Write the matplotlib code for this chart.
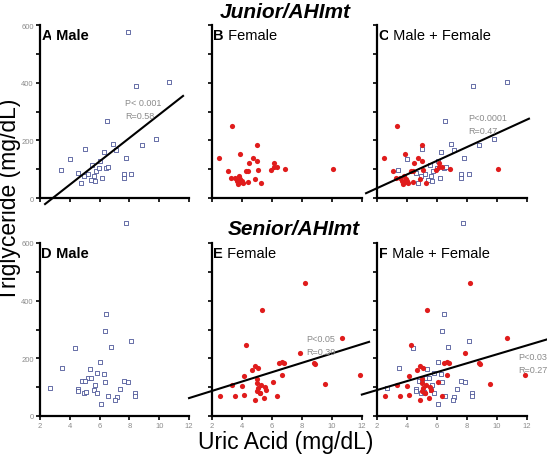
import numpy as np
import matplotlib.pyplot as plt

plt.rcParams['font.family'] = ['Liberation Sans', 'DejaVu Sans']

# Junior / AHImt
jm_ua = [7.92, 8.41, 10.64, 6.51, 4.99, 6.91, 6.29, 7.13, 8.83, 9.81, 7.80, 3.99, 3.41, 4.57, 4.95,
         4.72, 5.39, 5.68, 5.73, 5.61, 5.99, 6.17, 6.46, 6.57, 7.63, 7.63, 8.14, 5.21, 5.50, 6.05]
jm_tg = [577, 387, 402, 268, 170, 187, 159, 165, 185, 204, 138, 136, 98, 87, 75,
         52, 63, 60, 92, 78, 104, 69, 104, 106, 83, 69, 83, 83, 115, 127]
jf_ua = [3.34, 4.97, 3.85, 2.47, 4.75, 4.97, 4.46, 3.07, 4.25, 4.41, 5.04, 5.91, 6.15, 6.31, 6.13,
         6.87, 10.06, 3.29, 3.52, 3.81, 3.90, 3.85, 4.08, 4.01, 4.41, 4.86, 5.26, 3.74, 3.67]
jf_tg = [249, 184, 151, 138, 138, 129, 120, 92, 95, 95, 97, 98, 120, 106, 106,
         102, 99, 69, 69, 77, 65, 54, 51, 60, 56, 65, 51, 48, 60]

# Senior / AHImt
sm_ua = [7.76, 6.46, 6.35, 8.14, 4.37, 6.75, 3.45, 5.35, 6.06, 5.83, 6.29, 5.24, 5.44, 4.81, 5.00,
         6.35, 5.66, 7.63, 7.89, 2.67, 4.57, 4.57, 5.62, 7.36, 4.95, 5.10, 5.83, 6.55, 7.16, 7.04,
         6.08, 8.36, 8.36]
sm_tg = [670, 355, 294, 260, 236, 238, 166, 164, 186, 149, 147, 132, 133, 120, 120,
         118, 106, 120, 117, 97, 95, 87, 91, 95, 81, 83, 80, 69, 66, 55,
         43, 79, 68]
sf_ua = [8.21, 5.35, 10.64, 4.25, 7.87, 8.81, 8.88, 6.46, 6.64, 6.79, 4.86, 5.08, 4.68, 6.64, 4.12,
         11.89, 5.01, 6.06, 3.34, 4.01, 5.01, 9.52, 5.53, 5.08, 5.58, 5.19, 2.54, 3.52, 4.12, 5.46,
         6.35, 4.86, 5.21, 5.24, 5.01]
sf_tg = [460, 368, 272, 247, 220, 185, 180, 183, 188, 185, 174, 168, 160, 142, 139,
         141, 127, 119, 107, 104, 113, 110, 101, 98, 89, 79, 69, 69, 73, 64,
         69, 54, 81, 107, 87]

# regression fits: slope, intercept, x range, P and R text
fits = {
    'A': (40.5, -115.8, (2.34, 11.6), 'P< 0.001', 'R=0.58', (7.7, 330)),
    'C': (23.8, -13.6, (1.27, 12.13), 'P<0.0001', 'R=0.47', (8.1, 279)),
    'E': (16.25, 54.5, (0.47, 12.47), 'P<0.05', 'R=0.39', (8.3, 270)),
    'F': (15.5, 59.0, (0.99, 13.3), 'P<0.03', 'R=0.27', (11.4, 205)),
}

MALE_COLOR = '#4e5799'
FEMALE_COLOR = '#e01c1c'

W, H = 547, 464
fig = plt.figure(figsize=(W / 100, H / 100), dpi=100)

col_left = [40, 212, 377]
col_width = [149, 150, 150]
row_bottom = [199, 417]
row_height = 173


def make_ax(row, col):
    ax = fig.add_axes([col_left[col] / W, 1 - row_bottom[row] / H,
                       col_width[col] / W, row_height / H])
    ax.set_xlim(2, 12)
    ax.set_ylim(0, 600)
    for s in ['top', 'right']:
        ax.spines[s].set_visible(False)
    for s in ['left', 'bottom']:
        ax.spines[s].set_linewidth(1.6)
    ax.set_xticks(np.arange(2, 13, 2))
    ax.set_yticks([0, 200, 400, 600])
    ax.set_yticks([100, 300, 500], minor=True)
    ax.tick_params(axis='both', which='both', direction='out', length=3, width=1.2,
                   colors='black', labelcolor='#8c8c8c', labelsize=5.5, pad=1.5)
    if row == 0:
        ax.set_xticklabels([])
    if col > 0:
        ax.set_yticklabels([])
    ax.patch.set_alpha(0)
    return ax


def scatter_male(ax, x, y):
    ax.scatter(x, y, marker='s', s=11, facecolors='white', edgecolors=MALE_COLOR,
               linewidths=0.6, clip_on=False, zorder=3)


def scatter_female(ax, x, y):
    ax.scatter(x, y, marker='o', s=14, color=FEMALE_COLOR, linewidths=0,
               clip_on=False, zorder=4)


def draw_fit(ax, key):
    slope, icpt, (x0, x1), ptxt, rtxt, (tx, ty) = fits[key]
    xs = np.array([x0, x1])
    ax.plot(xs, slope * xs + icpt, color='black', lw=1.5, clip_on=False, zorder=5)
    ax.text(tx, ty, ptxt, fontsize=6.5, color='#8a8a8a', va='center', zorder=6)
    ax.text(tx, ty - 45, rtxt, fontsize=6.5, color='#8a8a8a', va='center', zorder=6)


def panel_label(ax, letter, rest, all_bold=False):
    box = dict(facecolor='white', edgecolor='none', pad=0.5)
    t = ax.text(0.01, 0.985, letter, transform=ax.transAxes, fontsize=10.5,
                fontweight='bold', va='top', ha='left', zorder=7)
    ax.annotate(' ' + rest, xy=(1, 0), xycoords=t, va='bottom', ha='left', bbox=box,
                fontsize=10.5, fontweight='bold' if all_bold else 'normal', zorder=7)


axA = make_ax(0, 0)
scatter_male(axA, jm_ua, jm_tg)
draw_fit(axA, 'A')
panel_label(axA, 'A', 'Male', True)

axB = make_ax(0, 1)
scatter_female(axB, jf_ua, jf_tg)
panel_label(axB, 'B', 'Female')

axC = make_ax(0, 2)
scatter_male(axC, jm_ua, jm_tg)
scatter_female(axC, jf_ua, jf_tg)
draw_fit(axC, 'C')
panel_label(axC, 'C', 'Male + Female')

axD = make_ax(1, 0)
scatter_male(axD, sm_ua, sm_tg)
panel_label(axD, 'D', 'Male', True)

axE = make_ax(1, 1)
scatter_female(axE, sf_ua, sf_tg)
draw_fit(axE, 'E')
panel_label(axE, 'E', 'Female')

axF = make_ax(1, 2)
scatter_male(axF, sm_ua, sm_tg)
scatter_female(axF, sf_ua, sf_tg)
draw_fit(axF, 'F')
panel_label(axF, 'F', 'Male + Female')

# group titles and shared axis labels
fig.text(285 / W, 1 - 12 / H, 'Junior/AHImt', ha='center', va='center',
         fontsize=15, fontweight='bold', style='italic')
fig.text(294 / W, 1 - 230 / H, 'Senior/AHImt', ha='center', va='center',
         fontsize=15, fontweight='bold', style='italic')
fig.text(286 / W, 1 - 443 / H, 'Uric Acid (mg/dL)', ha='center', va='center', fontsize=16.5)
fig.text(10 / W, 1 - 200 / H, 'Triglyceride (mg/dL)', ha='center', va='center',
         fontsize=16.5, rotation=90)

plt.savefig('out.png', dpi=100, facecolor='white')
plt.close()
